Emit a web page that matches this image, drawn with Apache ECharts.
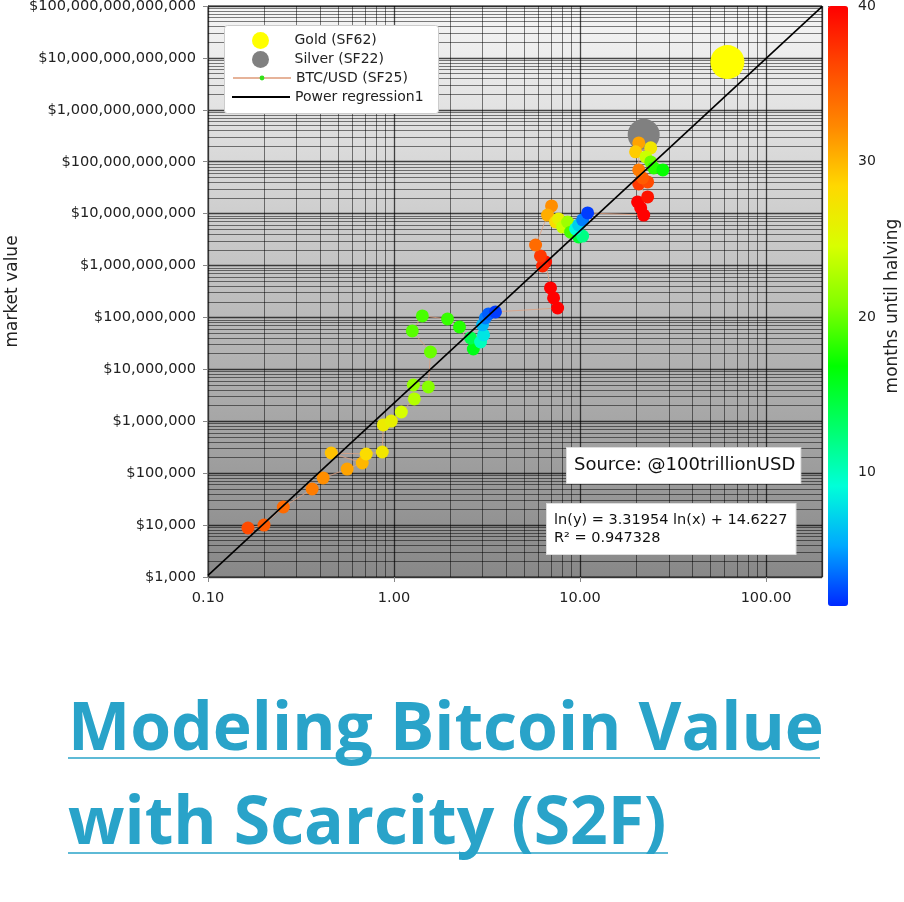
<!DOCTYPE html>
<html>
<head>
<meta charset="utf-8">
<script src="https://cdn.jsdelivr.net/npm/echarts@6/dist/echarts.min.js"></script>
<style>
  html, body { margin: 0; padding: 0; background: #fff; }
  #root { width: 904px; height: 902px; }
</style>
</head>
<body>
<div id="root"></div>
<script>
// stock-to-flow vs market value
const btcSF = [
  0.164, 0.200, 0.254, 0.363, 0.416, 0.560, 0.675, 0.460, 0.709, 0.865,
  0.876, 0.967, 1.095, 1.286, 1.27, 1.53, 1.57, 1.254, 1.42, 1.94,
  2.25, 2.67, 2.58, 2.92, 3.03, 2.99, 3.10, 3.22, 3.51,
  7.58, 7.21, 6.94, 6.53, 6.29, 6.13, 5.77, 7.03, 6.69, 7.39,
  7.67, 8.06, 8.58, 8.90, 9.83, 10.33, 9.47, 9.83, 10.33, 10.99,
  22.0, 21.2, 20.4, 23.1, 20.7, 23.1, 21.7, 20.7, 20.7, 19.9,
  24.0, 22.6, 24.0, 24.9, 27.9
]
const btcValue = [
  8.8e3, 1.0e4, 2.23e4, 4.96e4, 8.1e4, 1.2e5, 1.57e5, 2.45e5, 2.34e5, 2.56e5,
  8.5e5, 1.01e6, 1.51e6, 2.69e6, 5.0e6, 4.58e6, 2.16e7, 5.5e7, 1.07e8, 9.35e7,
  6.56e7, 2.47e7, 4.03e7, 3.37e7, 4.6e7, 7.2e7, 9.8e7, 1.17e8, 1.28e8,
  1.52e8, 2.38e8, 3.7e8, 1.17e9, 9.8e8, 1.53e9, 2.49e9, 1.41e10, 9.4e9, 6.9e9,
  7.9e9, 5.5e9, 6.9e9, 4.4e9, 3.56e9, 3.7e9, 5.1e9, 6.05e9, 7.6e9, 1.03e10,
  9.4e9, 1.29e10, 1.68e10, 2.1e10, 3.73e10, 4.08e10, 4.87e10, 6.95e10, 2.3e11, 1.55e11,
  1.85e11, 1.24e11, 9.9e10, 7.6e10, 6.95e10
]
const btcMonths = [
  36, 35, 34, 33, 32, 31, 30, 29.5, 28, 27,
  26.5, 26, 24.5, 23, 21.5, 21, 20, 19.5, 19, 18.5,
  18, 16, 14, 10, 8, 6, 4, 3, 2,
  40, 40, 40, 39, 38, 37, 34, 32, 30.5, 28,
  26, 24, 22, 19, 15, 12, 9, 7, 4, 2,
  40, 40, 40, 39, 37, 36, 35, 33, 31, 29,
  27, 24, 20, 18, 17
]
const gold = [[62, 8.3e12]]
const silver = [[22, 3.3e11]]

// ln(y) = a ln(x) + b
const regA = 3.31954
const regB = 14.6227
const regR2 = 0.947328

const xMin = 0.1
const xMax = 200
const yMin = 1e3
const yMax = 1e14
const monthsMin = 1.4
const monthsMax = 40
const colorbarTicks = [10, 20, 30, 40]

const rainbow = ['#0028ff', '#00a8ff', '#00ffd8', '#00ff68', '#00ff00', '#80ff00',
  '#d8ff00', '#ffd800', '#ff8800', '#ff4800', '#ff0000']

const font = 'DejaVu Sans'
const titleColor = '#29a3c9'

const btcData = btcSF.map((sf, i) => [sf, btcValue[i], btcMonths[i]])
const regLine = [xMin, xMax].map(x => [x, Math.exp(regB) * Math.pow(x, regA)])

// minor grid lines of the log axes (2..9 in every decade)
const minorLines = []
for (let d = -1; d <= 2; d++) {
  for (let k = 2; k <= 9; k++) {
    const v = +(k * Math.pow(10, d)).toPrecision(3)
    if (v < xMax) minorLines.push({ xAxis: v })
  }
}
for (let d = 3; d <= 13; d++) {
  for (let k = 2; k <= 9; k++) {
    minorLines.push({ yAxis: k * Math.pow(10, d) })
  }
}

const chart = echarts.init(document.getElementById('root'))

const legendText = { fontFamily: font, fontSize: 14, color: '#222', lineHeight: 16 }

const option = {
  animation: false,
  grid: [
    {
      left: 208, top: 6, width: 614, height: 571,
      outerBoundsMode: 'none',
      show: true,
      borderColor: '#333',
      borderWidth: 1,
      backgroundColor: new echarts.graphic.LinearGradient(0, 0, 0, 1, [
        { offset: 0, color: '#f6f6f6' },
        { offset: 1, color: '#888888' }
      ])
    },
    { left: 828, top: 6, width: 20, height: 600, show: false, outerBoundsMode: 'none' }
  ],
  xAxis: [
    {
      type: 'log', logBase: 10, min: xMin, max: xMax, interval: 1,
      axisLine: { lineStyle: { color: '#333' } },
      axisTick: { length: 5, lineStyle: { color: '#888' } },
      axisLabel: {
        fontFamily: font, fontSize: 14.5, color: '#222', margin: 14,
        showMaxLabel: false,
        formatter: v => v.toFixed(2)
      },
      splitLine: { show: true, lineStyle: { color: 'rgba(0,0,0,0.7)', width: 1.3 } }
    },
    { gridIndex: 1, type: 'value', show: false }
  ],
  yAxis: [
    {
      type: 'log', logBase: 10, min: yMin, max: yMax, interval: 1,
      name: 'market value',
      nameLocation: 'middle',
      nameGap: 187,
      nameRotate: 90,
      nameMoveOverlap: false,
      nameTextStyle: { fontFamily: font, fontSize: 17, color: '#222' },
      axisLine: { lineStyle: { color: '#333' } },
      axisTick: { length: 5, lineStyle: { color: '#888' } },
      axisLabel: {
        fontFamily: font, fontSize: 14.6, color: '#222', margin: 12,
        formatter: v => '$' + Math.round(v).toLocaleString('en-US')
      },
      splitLine: { show: true, lineStyle: { color: 'rgba(0,0,0,0.7)', width: 1.3 } }
    },
    {
      gridIndex: 1, type: 'value', position: 'right',
      min: monthsMin, max: monthsMax,
      name: 'months until halving',
      nameLocation: 'middle',
      nameGap: 36,
      nameRotate: 90,
      nameTextStyle: { fontFamily: font, fontSize: 17, color: '#222' },
      axisLine: { show: false },
      axisTick: { show: true, length: 5, customValues: colorbarTicks, lineStyle: { color: '#555' } },
      axisLabel: { fontFamily: font, fontSize: 14, color: '#222', margin: 10, customValues: colorbarTicks },
      splitLine: { show: false }
    }
  ],
  visualMap: {
    type: 'continuous',
    seriesIndex: 2,
    dimension: 2,
    min: monthsMin,
    max: monthsMax,
    inRange: { color: rainbow },
    calculable: false,
    hoverLink: false,
    left: 828,
    top: 6,
    padding: 0,
    itemWidth: 20,
    itemHeight: 600
  },
  legend: [
    {
      data: [{ name: 'Gold (SF62)', icon: 'circle' }, { name: 'Silver (SF22)', icon: 'circle' }],
      orient: 'vertical', left: 252, top: 32, padding: 0,
      itemWidth: 58, itemHeight: 17, itemGap: 2,
      textStyle: legendText, selectedMode: false, z: 10
    },
    {
      data: [{ name: 'BTC/USD (SF25)', itemStyle: { color: '#33e01a' } }],
      orient: 'vertical', left: 232, top: 70, padding: 0,
      itemWidth: 58, itemHeight: 6,
      textStyle: legendText, selectedMode: false, z: 10
    },
    {
      data: [{ name: 'Power regression1', icon: 'rect' }],
      orient: 'vertical', left: 232, top: 89, padding: 0,
      itemWidth: 58, itemHeight: 2,
      textStyle: legendText, selectedMode: false, z: 10
    }
  ],
  graphic: [
    {
      type: 'rect', left: 224, top: 25, z: 8,
      shape: { width: 214, height: 88, r: 3 },
      style: { fill: '#fff', stroke: '#cccccc', lineWidth: 1 }
    },
    {
      type: 'text', left: 566, top: 447, z: 8,
      style: {
        text: 'Source: @100trillionUSD',
        fontFamily: font, fontSize: 18, fill: '#111',
        backgroundColor: '#fff', padding: [8, 5, 9, 7],
        borderColor: '#dddddd', borderWidth: 1
      }
    },
    {
      type: 'text', left: 546, top: 503, z: 8,
      style: {
        text: 'ln(y) = ' + regA + ' ln(x) + ' + regB + '\nR\u00b2 = ' + regR2,
        fontFamily: font, fontSize: 14.5, lineHeight: 18, fill: '#111',
        backgroundColor: '#fff', padding: [7, 8, 7, 7],
        borderColor: '#dddddd', borderWidth: 1
      }
    },
    {
      type: 'text', left: 68, top: 698,
      style: { text: 'Modeling Bitcoin Value', fontFamily: 'Open Sans', fontWeight: 'bold', fontSize: 66, fill: titleColor }
    },
    {
      type: 'text', left: 68, top: 792,
      style: { text: 'with Scarcity (S2F)', fontFamily: 'Open Sans', fontWeight: 'bold', fontSize: 66, fill: titleColor }
    },
    {
      type: 'line', shape: { x1: 68, y1: 758, x2: 820, y2: 758 },
      style: { stroke: titleColor, lineWidth: 1.5 }
    },
    {
      type: 'line', shape: { x1: 68, y1: 853, x2: 668, y2: 853 },
      style: { stroke: titleColor, lineWidth: 1.5 }
    }
  ],
  series: [
    {
      name: 'Gold (SF62)', type: 'scatter', data: gold, symbolSize: 34,
      itemStyle: { color: '#ffff00', opacity: 1 },
      markLine: {
        silent: true, symbol: 'none', z: 1, animation: false,
        label: { show: false },
        lineStyle: { color: 'rgba(0,0,0,0.5)', width: 1, type: 'solid' },
        emphasis: { disabled: true },
        data: minorLines
      }
    },
    {
      name: 'Silver (SF22)', type: 'scatter', data: silver, symbolSize: 32,
      itemStyle: { color: '#808080', opacity: 1 }
    },
    {
      name: 'BTC/USD (SF25)', type: 'line', data: btcData,
      encode: { x: 0, y: 1 },
      symbol: 'circle', symbolSize: 13, showSymbol: true,
      lineStyle: { color: '#e0a080', width: 1, opacity: 0.8 },
      itemStyle: { opacity: 1 }
    },
    {
      name: 'Power regression1', type: 'line', data: regLine,
      symbol: 'none', z: 4,
      lineStyle: { color: '#000', width: 1.6 },
      itemStyle: { color: '#000' }
    }
  ]
}

chart.setOption(option)
</script>
</body>
</html>
